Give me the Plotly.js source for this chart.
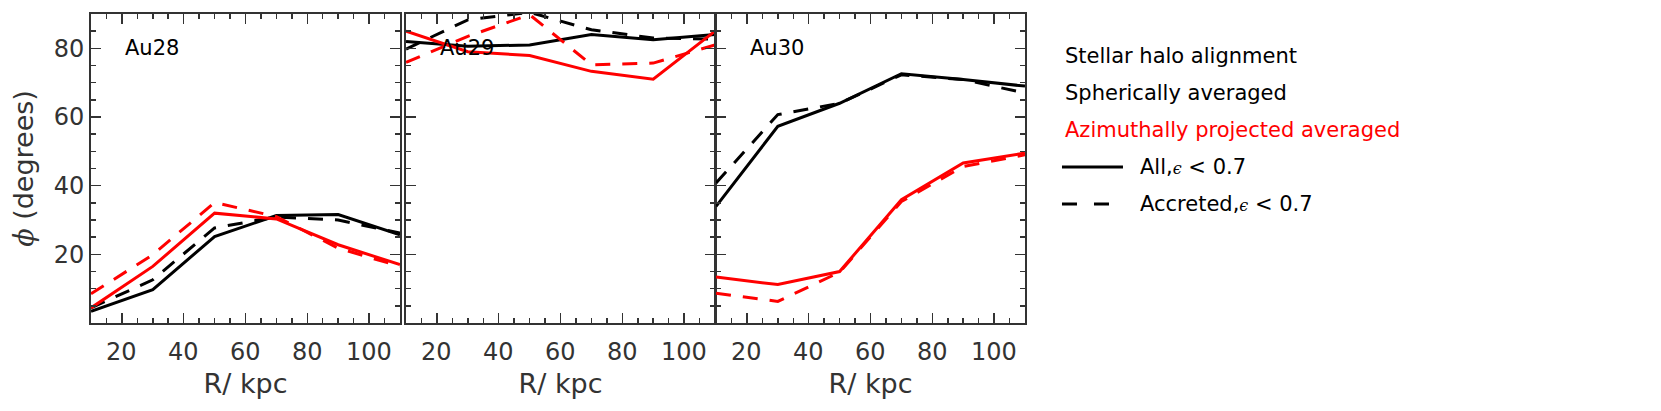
<!DOCTYPE html>
<html>
<head>
<meta charset="utf-8">
<script src="https://cdn.plot.ly/plotly-3.0.1.min.js"></script>
<style>
  body { margin: 0; background: #fff; }
  #chart { width: 1661px; height: 411px; }
</style>
</head>
<body>
<div id="chart"></div>
<script>
// radial bins (kpc)
var radius = [10, 30, 50, 70, 90, 110];

// Au28
var au28AllSph = [3.4, 9.7, 25.2, 31.3, 31.6, 25.7];
var au28AccSph = [4.4, 12.6, 27.7, 30.9, 30.0, 26.2];
var au28AllAzi = [4.4, 16.5, 32.0, 30.3, 22.8, 17.0];
var au28AccAzi = [8.5, 19.9, 35.1, 31.0, 21.8, 16.5];

// Au29
var au29AllSph = [82.0, 80.6, 81.0, 84.0, 82.5, 84.0];
var au29AccSph = [79.8, 88.3, 90.5, 85.4, 83.0, 82.7];
var au29AllAzi = [85.0, 79.0, 77.9, 73.3, 71.0, 85.0];
var au29AccAzi = [75.9, 83.5, 89.8, 75.2, 75.7, 81.0];

// Au30
var au30AllSph = [34.0, 57.3, 64.0, 72.6, 70.9, 69.0];
var au30AccSph = [40.8, 60.7, 64.0, 72.3, 70.9, 67.0];
var au30AllAzi = [13.4, 11.2, 15.0, 35.9, 46.6, 49.5];
var au30AccAzi = [8.7, 6.3, 14.8, 35.4, 45.6, 49.0];

var haloNames = ['Au28', 'Au29', 'Au30'];
var xTickVals = [20, 40, 60, 80, 100];
var xRange = [10, 110];
var yRange = [0.01, 90];   // keeps the 0 label off, as in the figure
var majorStep = 20;
var minorStep = 5;

var legendHeadings = ['Stellar halo alignment', 'Spherically averaged', 'Azimuthally projected averaged'];
var eps = '<span style="font-family:\'DejaVu Serif\';font-style:italic;font-size:16px">ϵ</span>';
var legendEntries = ['All,' + eps + ' < 0.7', 'Accreted,' + eps + ' < 0.7'];

var panels = [
    [au28AllSph, au28AccSph, au28AllAzi, au28AccAzi],
    [au29AllSph, au29AccSph, au29AllAzi, au29AccAzi],
    [au30AllSph, au30AccSph, au30AllAzi, au30AccAzi]
];

var ink = '#333333';
var dashPat = '15px,12px';
var styles = [
    {color: 'black', dash: 'solid'},
    {color: 'black', dash: dashPat},
    {color: 'red', dash: 'solid'},
    {color: 'red', dash: dashPat}
];

var data = [];
for (var p = 0; p < panels.length; p++) {
    var sfx = p === 0 ? '' : String(p + 1);
    for (var s = 0; s < styles.length; s++) {
        data.push({
            x: radius,
            y: panels[p][s],
            xaxis: 'x' + sfx,
            yaxis: 'y' + sfx,
            type: 'scatter',
            mode: 'lines',
            line: {color: styles[s].color, dash: styles[s].dash, width: 3},
            hoverinfo: 'none',
            showlegend: false
        });
    }
}

var fontFam = '"DejaVu Sans", sans-serif';
var domains = [[0, 0.3308], [0.3373, 0.6681], [0.6692, 1]];

function baseAxis(range) {
    return {
        range: range,
        tickmode: 'linear',
        tick0: 0,
        dtick: majorStep,
        ticks: 'inside',
        ticklen: 10,
        tickwidth: 1.5,
        tickcolor: ink,
        minor: {dtick: minorStep, ticks: 'inside', ticklen: 5, tickwidth: 1.5, tickcolor: ink},
        showline: true,
        linecolor: ink,
        linewidth: 2,
        mirror: 'allticks',
        showgrid: false,
        zeroline: false,
        tickfont: {family: fontFam, size: 24, color: ink},
        fixedrange: true
    };
}

var layout = {
    width: 1661,
    height: 411,
    margin: {l: 91, r: 636, t: 14, b: 88, pad: 0},
    paper_bgcolor: 'white',
    plot_bgcolor: 'white',
    showlegend: false
};

var annotations = [];

for (var q = 0; q < 3; q++) {
    var xs = q === 0 ? '' : String(q + 1);
    var xa = baseAxis(xRange);
    xa.domain = domains[q];
    xa.anchor = 'y' + xs;
    // x tick numbers are placed as annotations below (the built-in ones sit too close to the frame)
    xa.showticklabels = false;
    xa.title = {text: 'R/ kpc', font: {family: fontFam, size: 27, color: ink}, standoff: 50};
    layout['xaxis' + xs] = xa;

    var ya = baseAxis(yRange);
    ya.domain = [0, 1];
    ya.anchor = 'x' + xs;
    ya.showticklabels = q === 0;
    if (q === 0) {
        ya.title = {
            text: '<span style="font-family:\'DejaVu Serif\';font-style:italic">ϕ</span> (degrees)',
            font: {family: fontFam, size: 27, color: ink},
            standoff: 12
        };
    }
    layout['yaxis' + xs] = ya;

    for (var t = 0; t < xTickVals.length; t++) {
        annotations.push({
            text: String(xTickVals[t]), xref: 'x' + xs, yref: 'paper', x: xTickVals[t], y: 0,
            xanchor: 'center', yanchor: 'middle', yshift: -29, showarrow: false,
            font: {family: fontFam, size: 24, color: ink}
        });
    }
}

for (var k = 0; k < haloNames.length; k++) {
    var sf = k === 0 ? '' : String(k + 1);
    annotations.push({
        text: haloNames[k], xref: 'x' + sf, yref: 'y' + sf, x: 20.5, y: 80,
        xanchor: 'left', yanchor: 'middle', showarrow: false,
        font: {family: fontFam, size: 21, color: 'black'}
    });
}

// legend block to the right of the panels (paper coordinates)
var legX = 1.0405;
var rowY = [0.864, 0.744, 0.625, 0.505, 0.385];
for (var h = 0; h < legendHeadings.length; h++) {
    annotations.push({
        text: legendHeadings[h], xref: 'paper', yref: 'paper', x: legX, y: rowY[h],
        xanchor: 'left', yanchor: 'middle', showarrow: false,
        font: {family: fontFam, size: 21, color: h === 2 ? 'red' : 'black'}
    });
}
var shapes = [];
for (var e = 0; e < legendEntries.length; e++) {
    annotations.push({
        text: legendEntries[e], xref: 'paper', yref: 'paper', x: 1.1215, y: rowY[3 + e],
        xanchor: 'left', yanchor: 'middle', showarrow: false,
        font: {family: fontFam, size: 21, color: 'black'}
    });
    shapes.push({
        type: 'line', xref: 'paper', yref: 'paper',
        x0: 1.0396, x1: 1.1049, y0: rowY[3 + e], y1: rowY[3 + e],
        line: {color: 'black', width: 3, dash: e === 0 ? 'solid' : '15px,17px'}
    });
}
layout.annotations = annotations;
layout.shapes = shapes;

Plotly.newPlot('chart', data, layout, {displayModeBar: false, staticPlot: true});
</script>
</body>
</html>
